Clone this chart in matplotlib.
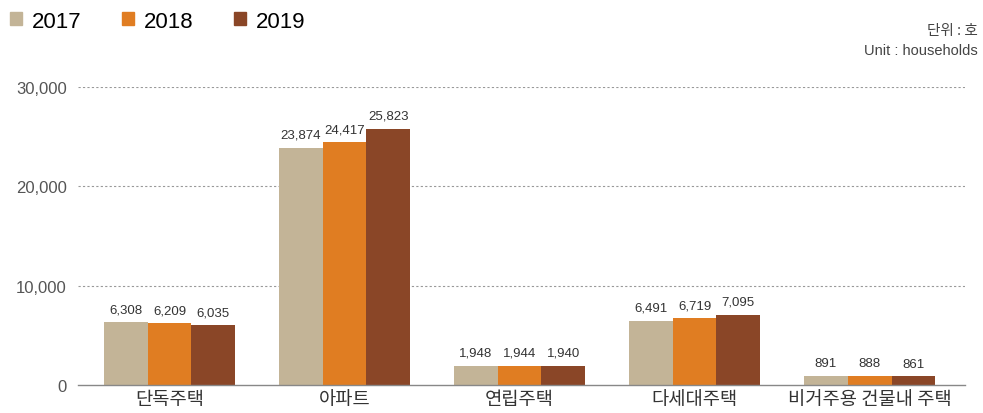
import numpy as np
import matplotlib
matplotlib.use("Agg")
from matplotlib import pyplot as plt
from matplotlib.patches import Patch

plt.rcParams['font.family'] = ['Noto Sans CJK KR', 'DejaVu Sans']

categories = ['단독주택', '아파트', '연립주택', '다세대주택', '비거주용 건물내 주택']
years = ['2017', '2018', '2019']
v2017 = [6308, 23874, 1948, 6491, 891]
v2018 = [6209, 24417, 1944, 6719, 888]
v2019 = [6035, 25823, 1940, 7095, 861]
yticks = [0, 10000, 20000, 30000]

colors = ['#c3b497', '#e07d22', '#8a4627']
series = [v2017, v2018, v2019]

fig = plt.figure(figsize=(9.83, 4.14), dpi=100)
ax = fig.add_axes([0.0794, 0.0676, 0.9023, 0.7198])

x = np.arange(len(categories))
w = 0.25
for i, (vals, c) in enumerate(zip(series, colors)):
  pos = x + (i - 1) * w
  ax.bar(pos, vals, width=w, color=c, zorder=3)
  for px, v in zip(pos, vals):
    ax.annotate(f"{v:,}", (px, v), xytext=(0, 5), textcoords='offset points',
                ha='center', va='bottom', fontsize=9.5, color='#333333',
                family=['Liberation Sans', 'DejaVu Sans'], annotation_clip=False)

ax.set_xlim(-0.523, 4.545)
ax.set_ylim(0, 30000)
ax.set_yticks(yticks)
ax.set_yticklabels([f"{t:,}" for t in yticks], fontsize=12, color='#555555',
                   family=['Liberation Sans', 'DejaVu Sans'])
ax.tick_params(axis='y', length=0, pad=8)
ax.set_xticks(x)
ax.set_xticklabels(categories, fontsize=13.5, color='#333333')
ax.tick_params(axis='x', length=0, pad=2)

for t in yticks[1:]:
  ax.axhline(t, color='#999999', lw=0.8, ls=(0, (2, 2)), zorder=1)
ax.axhline(0, color='#888888', lw=1.0, zorder=4, clip_on=False)
for s in ax.spines.values():
  s.set_visible(False)

handles = [Patch(color=c) for c in colors]
fig.legend(handles, years, loc='upper left', bbox_to_anchor=(0.01, 0.972), ncol=3,
           frameon=False, handlelength=0.55, handleheight=0.55,
           handletextpad=0.45, columnspacing=1.8, borderpad=0, borderaxespad=0,
           prop={'family': ['Liberation Sans'], 'size': 16})

fig.text(0.995, 0.925, '단위 : 호', ha='right', va='center', fontsize=10.5, color='#444444')
fig.text(0.995, 0.877, 'Unit : households', ha='right', va='center', fontsize=10.5, color='#444444',
         family=['Liberation Sans', 'DejaVu Sans'])

fig.savefig('out.png', dpi=100)
